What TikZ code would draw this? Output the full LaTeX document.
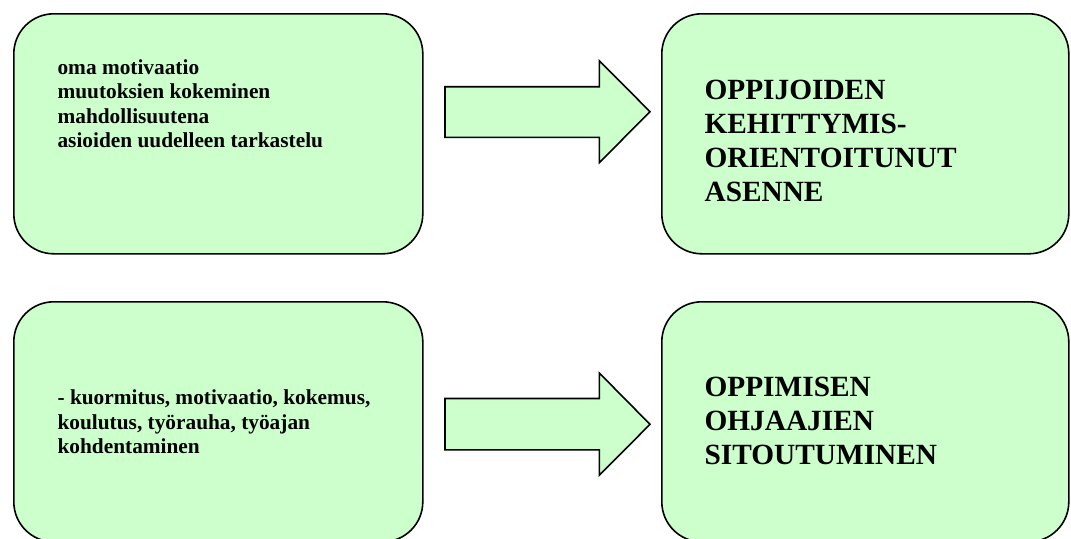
\documentclass[tikz,border=0pt]{standalone}
\usepackage{fontspec}
\setmainfont{Liberation Serif}
\definecolor{paleGreen}{HTML}{CCFFCC}
\begin{document}
\begin{tikzpicture}[x=0.75pt, y=-0.75pt,
  box/.style={draw=black, fill=paleGreen, line width=1.2pt, rounded corners=30pt,
    anchor=north west, inner sep=0pt, minimum width=306.75pt, minimum height=180pt},
  blockarrow/.style={draw=black, fill=paleGreen, line width=1.2pt, line join=miter},
  % the base anchor of a multi-line node is the baseline of its last line
  smalltext/.style={anchor=base west, inner sep=0pt, align=left,
    font=\fontsize{16}{18.2}\selectfont\bfseries},
  bigtext/.style={anchor=base west, inner sep=0pt, align=left,
    font=\fontsize{22}{25.5}\selectfont\bfseries}]
\useasboundingbox (0,0) rectangle (1071,539);

% four rounded boxes
\node[box] (tl) at (13,13) {};
\node[box, minimum width=305.25pt] (tr) at (661,13) {};
\node[box] (bl) at (13,301) {};
\node[box, minimum width=305.25pt] (br) at (661,301) {};

% block arrows between the boxes
\draw[blockarrow] (445,86.7) -- (599.3,86.7) -- (599.3,60.7) -- (650,111.7)
  -- (599.3,162.7) -- (599.3,137.3) -- (445,137.3) -- cycle;
\draw[blockarrow] (445,398.5) -- (599.3,398.5) -- (599.3,373) -- (650,424.3)
  -- (599.3,475.3) -- (599.3,449.8) -- (445,449.8) -- cycle;

% texts
\node[smalltext] (tltext) at (57.3,147.3) {oma motivaatio\\muutoksien kokeminen\\mahdollisuutena\\asioiden uudelleen tarkastelu};
\node[bigtext] (trtext) at (704.3,201.3) {OPPIJOIDEN\\KEHITTYMIS-\\ORIENTOITUNUT\\ASENNE};
\node[smalltext] (bltext) at (57.3,453.3) {- kuormitus, motivaatio, kokemus,\\koulutus, työrauha, työajan\\kohdentaminen};
\node[bigtext] (brtext) at (704.3,464.3) {OPPIMISEN\\OHJAAJIEN\\SITOUTUMINEN};
\end{tikzpicture}
\end{document}
